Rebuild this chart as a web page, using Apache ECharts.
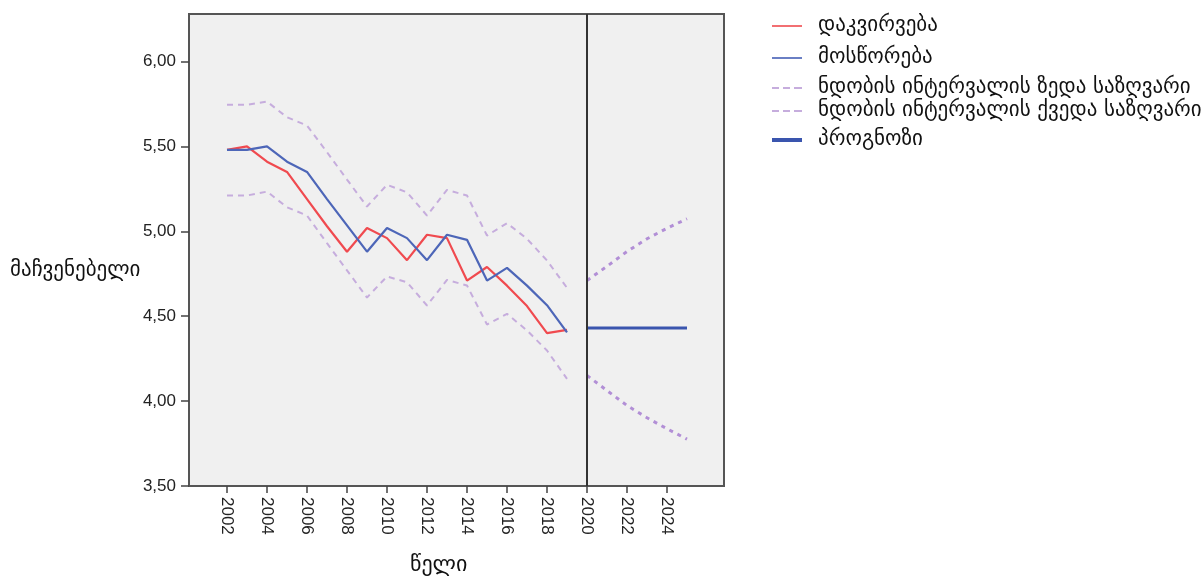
<!DOCTYPE html>
<html>
<head>
<meta charset="utf-8">
<script src="https://cdn.jsdelivr.net/npm/echarts@6/dist/echarts.min.js"></script>
<style>
html,body{margin:0;padding:0;background:#fff;}
#c{width:1203px;height:577px;}
</style>
</head>
<body>
<div id="c"></div>
<script>
// ---- data ----
const histYears = [2002,2003,2004,2005,2006,2007,2008,2009,2010,2011,2012,2013,2014,2015,2016,2017,2018,2019];
const observed  = [5.48,5.50,5.41,5.35,5.19,5.03,4.88,5.02,4.96,4.83,4.98,4.96,4.71,4.79,4.68,4.56,4.40,4.42];
const fitted    = [5.48,5.48,5.50,5.41,5.35,5.19,5.035,4.88,5.02,4.96,4.83,4.98,4.95,4.71,4.785,4.68,4.565,4.405];
const upperHist = [5.745,5.745,5.764,5.672,5.623,5.466,5.305,5.146,5.274,5.23,5.093,5.244,5.211,4.975,5.048,4.956,4.828,4.667];
const lowerHist = [5.211,5.211,5.234,5.142,5.093,4.93,4.77,4.61,4.734,4.70,4.563,4.714,4.681,4.451,4.514,4.416,4.298,4.131];
const fcYears   = [2020,2021,2022,2023,2024,2025];
const forecast  = [4.43,4.43,4.43,4.43,4.43,4.43];
const upperFc   = [4.710,4.794,4.881,4.956,5.018,5.074];
const lowerFc   = [4.151,4.062,3.974,3.902,3.837,3.776];
const xTickLabels = [2002,2004,2006,2008,2010,2012,2014,2016,2018,2020,2022,2024];
const yTickLabels = [3.5,4.0,4.5,5.0,5.5,6.0];
const names = ['დაკვირვება','მოსწორება','ნდობის ინტერვალის ზედა საზღვარი','ნდობის ინტერვალის ქვედა საზღვარი','პროგნოზი'];
const yName = 'მაჩვენებელი';
const xName = 'წელი';
const cutYear = 2020;

const pairs = (xs, ys) => xs.map((x, i) => [x, ys[i]]);
const FONT = '"Liberation Sans", "DejaVu Sans", Arial, sans-serif';
const GFONT = '"DejaVu Sans", sans-serif';

const ciHistColor = '#c6addd';
const ciFcColor = '#b28fd6';

const ICON_SOLID = 'path://M0,0H30V2H0Z';
const ICON_DASH = 'path://M0,0H7V2H0Z M11,0H18V2H11Z M22,0H30V2H22Z';
const ICON_THICK = 'path://M0,0H30V4H0Z';

function legendAt(name, top, icon, h) {
  return {
    data: [name], left: 772, top: top, orient: 'vertical', padding: 0,
    icon: icon, itemWidth: 30, itemHeight: h, selectedMode: false,
    textStyle: {fontFamily: GFONT, fontSize: 21, color: '#111', padding: [0,0,0,11], lineHeight: 22}
  };
}

const chart = echarts.init(document.getElementById('c'), null, {renderer: 'canvas'});
chart.setOption({
  animation: false,
  backgroundColor: '#fff',
  grid: {left: 189, top: 14, width: 535, height: 472, show: true, backgroundColor: '#f0f0f0', borderColor: '#555', borderWidth: 2},
  legend: [
    legendAt(names[0], 15, ICON_SOLID, 2),
    legendAt(names[1], 47, ICON_SOLID, 2),
    legendAt(names[2], 77, ICON_DASH, 2),
    legendAt(names[3], 100, ICON_DASH, 2),
    legendAt(names[4], 129, ICON_THICK, 4)
  ],
  xAxis: {
    type: 'value', min: 2000.1, max: 2026.85,
    splitLine: {show: false},
    axisLine: {show: true, onZero: false, lineStyle: {color: '#555', width: 2}},
    axisTick: {show: true, length: 7, customValues: xTickLabels, lineStyle: {color: '#444', width: 1.5}},
    axisLabel: {customValues: xTickLabels, rotate: -90, margin: 11, fontFamily: FONT, fontSize: 17, color: '#222', formatter: v => String(v)}
  },
  yAxis: {
    type: 'value', min: 3.5, max: 6.28,
    splitLine: {show: false},
    axisLine: {show: true, onZero: false, lineStyle: {color: '#555', width: 2}},
    axisTick: {show: true, length: 8, customValues: yTickLabels, lineStyle: {color: '#444', width: 1.5}},
    axisLabel: {customValues: yTickLabels, margin: 13, fontFamily: FONT, fontSize: 17, color: '#222', formatter: v => v.toFixed(2).replace('.', ',')}
  },
  graphic: [
    {type: 'text', left: 10, top: 260, style: {text: yName, fontFamily: GFONT, fontSize: 21, fill: '#111'}},
    {type: 'text', left: 410, top: 554, style: {text: xName, fontFamily: GFONT, fontSize: 22, fill: '#111'}}
  ],
  series: [
    {name: names[2], type: 'line', data: pairs(histYears, upperHist), symbol: 'none', lineStyle: {color: ciHistColor, width: 2, type: [6, 5]}, itemStyle: {color: ciHistColor}, z: 2},
    {name: names[3], type: 'line', data: pairs(histYears, lowerHist), symbol: 'none', lineStyle: {color: ciHistColor, width: 2, type: [6, 5]}, itemStyle: {color: ciHistColor}, z: 2},
    {name: names[0], type: 'line', data: pairs(histYears, observed), symbol: 'none', lineStyle: {color: '#f04a4f', width: 2.2}, itemStyle: {color: '#f26f72'}, z: 3},
    {name: names[1], type: 'line', data: pairs(histYears, fitted), symbol: 'none', lineStyle: {color: '#4d66b8', width: 2.2}, itemStyle: {color: '#6a7fc4'}, z: 4,
      markLine: {silent: true, symbol: 'none', label: {show: false}, lineStyle: {color: '#333', width: 2, type: 'solid'}, data: [{xAxis: cutYear}]}},
    {name: names[2], type: 'line', data: pairs(fcYears, upperFc), symbol: 'none', lineStyle: {color: ciFcColor, width: 3, type: [4, 5]}, itemStyle: {color: ciFcColor}, z: 2},
    {name: names[3], type: 'line', data: pairs(fcYears, lowerFc), symbol: 'none', lineStyle: {color: ciFcColor, width: 3, type: [4, 5]}, itemStyle: {color: ciFcColor}, z: 2},
    {name: names[4], type: 'line', data: pairs(fcYears, forecast), symbol: 'none', lineStyle: {color: '#3a55ae', width: 3}, itemStyle: {color: '#3a55ae'}, z: 4}
  ]
});
</script>
</body>
</html>
